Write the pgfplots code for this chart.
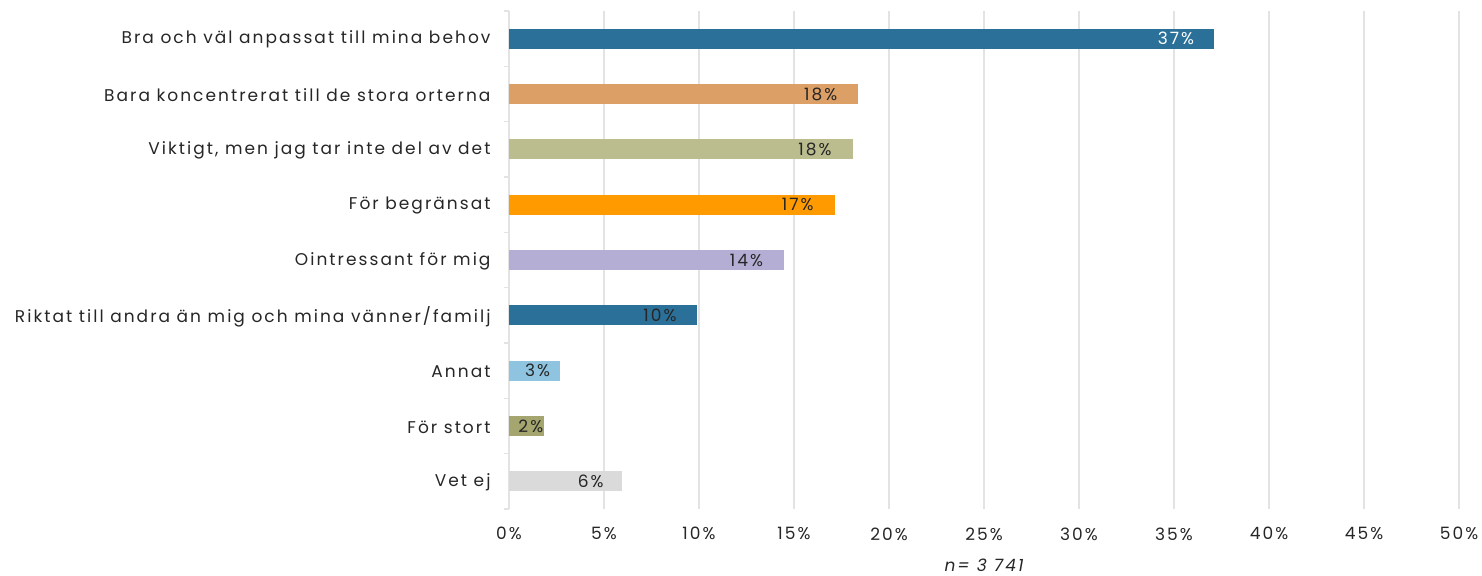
\documentclass[border=0pt]{standalone}
\usepackage{fontspec}
\setmainfont{Poppins}[LetterSpace=12]
\usepackage{pgfplots}
\pgfplotsset{compat=1.18}
\usetikzlibrary{calc}
\definecolor{cBlue}{HTML}{2A7099}
\definecolor{cTan}{HTML}{DC9F65}
\definecolor{cSage}{HTML}{BBBD8F}
\definecolor{cOrange}{HTML}{FF9A00}
\definecolor{cLav}{HTML}{B5AED4}
\definecolor{cLight}{HTML}{8EC4DF}
\definecolor{cOlive}{HTML}{A5A56F}
\definecolor{cGray}{HTML}{DADADA}
\definecolor{txt}{HTML}{262626}
\definecolor{gridc}{HTML}{E3E3E3}
\begin{document}
\begin{tikzpicture}[font=\fontsize{17bp}{20bp}\selectfont]
\begin{axis}[
  name=ax,
  at={(0,0)}, anchor=south west,
  scale only axis,
  width=950bp, height=498bp,
  xmin=0, xmax=50,
  ymin=-0.5, ymax=8.5,
  y dir=reverse,
  xtick={0,5,...,50},
  xticklabel={\pgfmathprintnumber{\tick}\%},
  xticklabel style={text=txt, yshift=-15bp},
  /pgf/number format/assume math mode=true,
  x tick style={draw=none},
  xmajorgrids,
  grid style={gridc, line width=1.5bp},
  ytick={0,...,8},
  yticklabels={Bra och väl anpassat till mina behov, Bara koncentrerat till de stora orterna, {Viktigt, men jag tar inte del av det}, För begränsat, Ointressant för mig, Riktat till andra än mig och mina vänner/familj, Annat, För stort, Vet ej},
  yticklabel style={text=txt, xshift=-15bp, yshift=-1bp},
  major tick length=0pt,
  minor ytick={-0.5,0.5,...,8.5},
  minor tick length=5bp,
  y tick style={gridc, line width=1.5bp},
  tick pos=left,
  tick align=outside,
  axis x line*=bottom,
  x axis line style={draw=none},
  axis y line*=left,
  y axis line style={gridc, line width=1.5bp, -},
  xlabel={\itshape n= 3 741},
  xlabel style={text=txt, yshift=-12bp},
  clip=false,
]
\addplot[xbar, bar width=20bp, bar shift=0pt, fill=cBlue, draw=none] coordinates {(37.1,0)};
\addplot[xbar, bar width=20bp, bar shift=0pt, fill=cTan, draw=none] coordinates {(18.35,1)};
\addplot[xbar, bar width=20bp, bar shift=0pt, fill=cSage, draw=none] coordinates {(18.1,2)};
\addplot[xbar, bar width=20bp, bar shift=0pt, fill=cOrange, draw=none] coordinates {(17.15,3)};
\addplot[xbar, bar width=20bp, bar shift=0pt, fill=cLav, draw=none] coordinates {(14.45,4)};
\addplot[xbar, bar width=20bp, bar shift=0pt, fill=cBlue, draw=none] coordinates {(9.9,5)};
\addplot[xbar, bar width=20bp, bar shift=0pt, fill=cLight, draw=none] coordinates {(2.68,6)};
\addplot[xbar, bar width=20bp, bar shift=0pt, fill=cOlive, draw=none] coordinates {(1.84,7)};
\addplot[xbar, bar width=20bp, bar shift=0pt, fill=cGray, draw=none] coordinates {(5.95,8)};
% value labels
\addplot[draw=none, mark=none, nodes near coords={\pgfplotspointmeta\%}, point meta=explicit symbolic,
  every node near coord/.style={anchor=center, text=white, inner sep=0pt}] table[meta=l] {
x y l
35.1 0 37
};
\addplot[draw=none, mark=none, nodes near coords={\pgfplotspointmeta\%}, point meta=explicit symbolic,
  every node near coord/.style={anchor=center, text=txt, inner sep=0pt}] table[meta=l] {
x y l
16.4 1 18
16.1 2 18
15.2 3 17
12.5 4 14
7.95 5 10
1.5 6 3
1.15 7 2
4.3 8 6
};
\end{axis}
\path[use as bounding box] ($(ax.south west)+(-509bp,-62bp)$) rectangle ($(ax.north east)+(23bp,11bp)$);
\end{tikzpicture}
\end{document}
